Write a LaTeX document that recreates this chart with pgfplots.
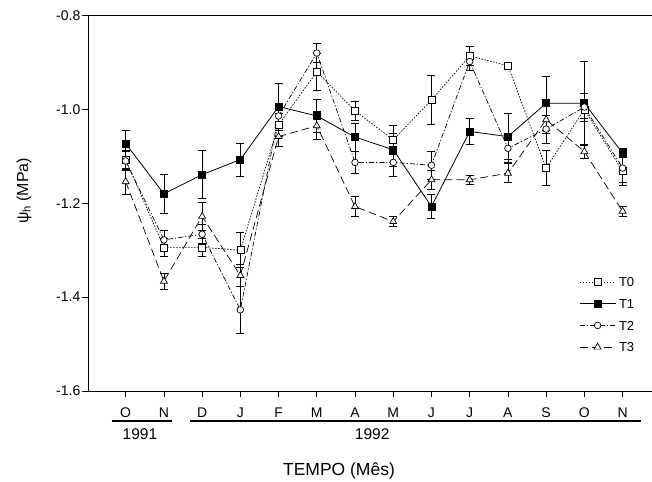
\documentclass[border=0pt]{standalone}
\usepackage{fontspec}
\setmainfont{Liberation Sans}
\usepackage{pgfplots}
\pgfplotsset{compat=1.18}
\usepackage{pgfplotstable}

\pgfplotstableread{
x y e
0 -1.107 0.020
1 -1.294 0.020
2 -1.294 0.020
3 -1.300 0.037
4 -1.033 0.025
5 -0.920 0.040
6 -1.003 0.020
7 -1.065 0.030
8 -0.980 0.053
9 -0.886 0.020
10 -0.907 0.004
11 -1.125 0.037
12 -1.000 0.020
13 -1.132 0.030
}\tzero
\pgfplotstableread{
x y e
0 -1.073 0.028
1 -1.180 0.041
2 -1.139 0.051
3 -1.107 0.035
4 -0.994 0.050
5 -1.014 0.035
6 -1.059 0.030
7 -1.086 0.035
8 -1.207 0.025
9 -1.047 0.028
10 -1.058 0.049
11 -0.987 0.057
12 -0.987 0.089
13 -1.093 0.010
}\tone
\pgfplotstableread{
x y e
0 -1.110 0.020
1 -1.278 0.020
2 -1.266 0.020
3 -1.427 0.050
4 -1.014 0.020
5 -0.880 0.020
6 -1.113 0.023
7 -1.113 0.030
8 -1.119 0.030
9 -0.898 0.020
10 -1.083 0.030
11 -1.042 0.030
12 -0.995 0.030
13 -1.125 0.030
}\ttwo
\pgfplotstableread{
x y e
0 -1.154 0.028
1 -1.366 0.017
2 -1.228 0.030
3 -1.354 0.024
4 -1.058 0.020
5 -1.035 0.030
6 -1.207 0.022
7 -1.239 0.010
8 -1.150 0.020
9 -1.150 0.010
10 -1.136 0.020
11 -1.022 0.030
12 -1.090 0.015
13 -1.217 0.010
}\tthree

\pgfplotsset{
  errstyle/.style={error bars/.cd, y dir=both, y explicit,
    error bar style={solid, line width=0.8pt, black},
    error mark options={solid, rotate=90, mark size=4pt, line width=0.8pt, black}},
}

\begin{document}
\begin{tikzpicture}
\begin{axis}[
  scale only axis, width=564pt, height=375.5pt,
  xmin=-0.986, xmax=13.77, ymin=-1.6, ymax=-0.8,
  axis x line*=bottom, axis y line*=left,
  axis line style={line width=0.9pt, -},
  tick align=outside, major tick length=6pt,
  tick style={black, line width=0.8pt},
  xtick={0,...,13}, xticklabels={O,N,D,J,F,M,A,M,J,J,A,S,O,N},
  ytick={-1.6,-1.4,-1.2,-1.0,-0.8},
  yticklabels={-1.6,-1.4,-1.2,-1.0,-0.8},
  ticklabel style={font=\fontsize{14}{16}\selectfont},
  xticklabel style={anchor=north, inner sep=0pt, text height=10pt, text depth=0pt, yshift=-10.5pt},
  yticklabel style={anchor=east, inner sep=0pt, xshift=-1.5pt},
  clip=false,
  legend cell align=left,
  legend style={draw=none, fill=none, at={(rel axis cs:0.8706,0.306)}, anchor=north west,
    inner sep=0pt, row sep=10.2pt, column sep=2pt,
    nodes={inner sep=1pt, text height=9.5pt, text depth=0pt, font=\fontsize{13}{15}\selectfont}},
  legend image code/.code={\draw[mark repeat=2,mark phase=2,#1] plot coordinates {(0pt,0pt) (18pt,0pt) (36pt,0pt)};},
]
\addplot[black, line width=0.7pt, dash pattern=on 1.5pt off 1.5pt, mark=square*, mark size=3.5pt,
  mark options={solid, fill=white}, errstyle] table[x=x, y=y, y error=e]{\tzero};
\addplot[black, line width=0.8pt, solid, mark=square*, mark size=3.5pt,
  mark options={solid, fill=black}, errstyle] table[x=x, y=y, y error=e]{\tone};
\addplot[black, line width=0.7pt, dash pattern=on 5pt off 2pt on 1.2pt off 2pt, mark=*, mark size=3.3pt,
  mark options={solid, fill=white}, errstyle] table[x=x, y=y, y error=e]{\ttwo};
\addplot[black, line width=0.7pt, dash pattern=on 8pt off 4pt, mark=triangle*, mark size=4pt,
  mark options={solid, fill=white}, errstyle] table[x=x, y=y, y error=e]{\tthree};
\legend{T0,T1,T2,T3}

\draw[line width=0.9pt] (rel axis cs:0,1) -- (rel axis cs:1,1);
\draw[line width=2.5pt] (axis cs:-0.365,-1.6) ++(0pt,-30pt) -- ++(59.8pt,0pt);
\draw[line width=2.5pt] (axis cs:1.68,-1.6) ++(0pt,-30pt) -- ++(450.6pt,0pt);
\node[anchor=base, inner sep=0pt, font=\fontsize{15.5}{17}\selectfont] at ([yshift=-49pt]axis cs:0.374,-1.6) {1991};
\node[anchor=base, inner sep=0pt, font=\fontsize{15.5}{17}\selectfont] at ([yshift=-49pt]axis cs:6.45,-1.6) {1992};
\node[anchor=base, inner sep=0pt, font=\fontsize{17.5}{20}\selectfont] at ([yshift=-85pt]rel axis cs:0.445,0) {TEMPO (Mês)};
\node[rotate=90, inner sep=0pt, font=\fontsize{16}{18}\selectfont] at ([xshift=-64pt]rel axis cs:0,0.533) {ψ\textsubscript{h} (MPa)};
\coordinate (bbl) at (rel axis cs:0,0);
\coordinate (btr) at (rel axis cs:1,1);
\end{axis}
\pgfresetboundingbox
\path[use as bounding box] ([shift={(-88pt,-91pt)}]bbl) rectangle ([shift={(0pt,15.5pt)}]btr);
\end{tikzpicture}
\end{document}
